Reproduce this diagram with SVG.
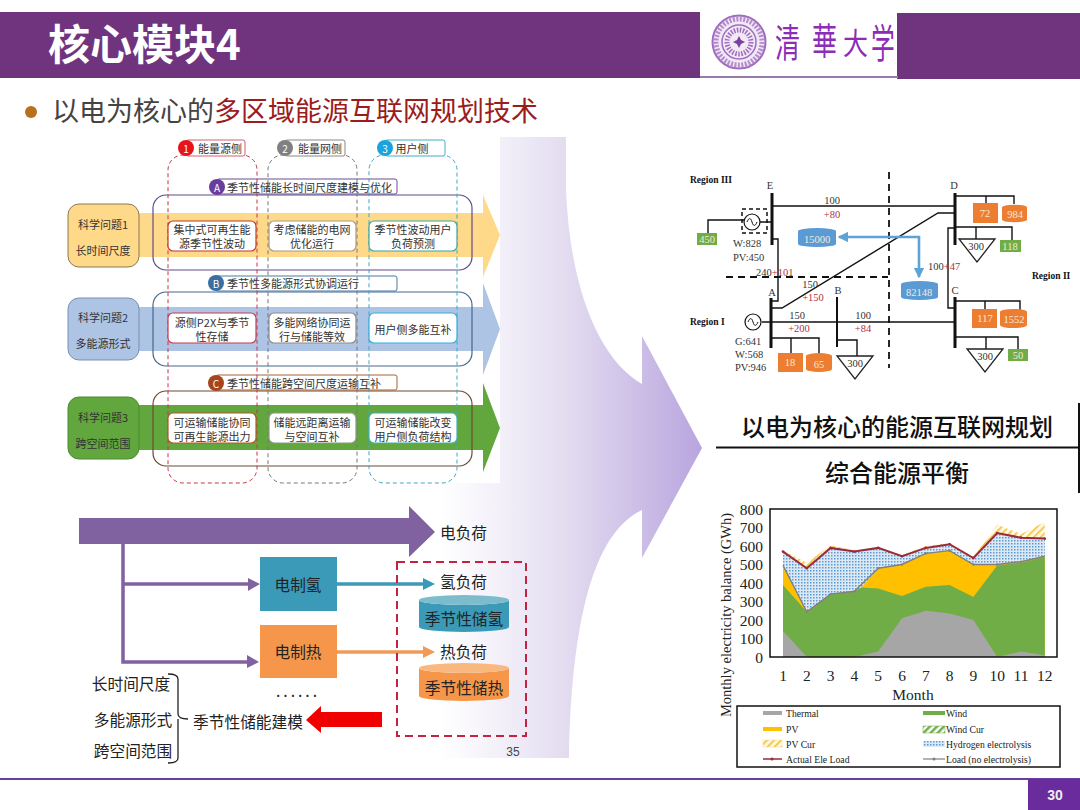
<svg xmlns="http://www.w3.org/2000/svg" width="1080" height="810" viewBox="0 0 1080 810">
<style>
text{font-family:"Noto Sans CJK SC","Noto Sans",sans-serif}
.c{text-anchor:middle;dominant-baseline:central}
.l{dominant-baseline:central}
.s{font-size:11px;fill:#333}
.m{font-size:15.7px;fill:#222;transform:translateY(-1px)}
.tag{fill:#fff;stroke-width:1}
.in{fill:#fff;stroke-width:1.2}
.col{fill:none;stroke-width:1;stroke-dasharray:4 3}
.big{fill:none;stroke-width:1.2}
.n{font-family:"Liberation Serif",serif;font-size:10.5px;fill:#333}
.r{font-family:"Liberation Serif",serif;font-size:10.5px;fill:#b03040}
.w{font-family:"Liberation Serif",serif;font-size:10.5px;fill:#f4ead8}
.b{font-family:"Liberation Serif",serif;font-size:9.5px;font-weight:bold;fill:#111}
.pl{fill:none;stroke:#111;stroke-width:1.4}
.bus{fill:none;stroke:#111;stroke-width:3}
.or{fill:#ed7d31}.gr{fill:#70ad47}.bl{fill:#5b9bd5}
.tri{fill:#fff;stroke:#222;stroke-width:1.3}
.t{font-family:"Liberation Serif",serif;font-size:15.5px;fill:#222}
.lg{font-family:"Liberation Serif",serif;font-size:9.7px;fill:#222}
.lc{font-size:25px;fill:#8b2db5;stroke:none}
</style>
<defs>
<linearGradient id="g" gradientUnits="userSpaceOnUse" x1="500" y1="0" x2="702" y2="0"><stop offset="0" stop-color="#f3f0f9"/><stop offset="0.33" stop-color="#e3dcf0"/><stop offset="1" stop-color="#b8a5de"/></linearGradient>
<linearGradient id="g2" gradientUnits="userSpaceOnUse" x1="440" y1="0" x2="500" y2="0"><stop offset="0" stop-color="#fff"/><stop offset="1" stop-color="#f3f0f9"/></linearGradient>
<pattern id="hy" width="3" height="3" patternUnits="userSpaceOnUse"><rect width="3" height="3" fill="#dce9f5"/><rect width="1.5" height="1.5" fill="#5b9bd5"/></pattern>
<pattern id="py" width="5" height="5" patternUnits="userSpaceOnUse" patternTransform="rotate(45)"><rect width="5" height="5" fill="#fff8e0"/><rect width="1.6" height="5" fill="#f2c13c"/></pattern>
<pattern id="wy" width="5" height="5" patternUnits="userSpaceOnUse" patternTransform="rotate(45)"><rect width="5" height="5" fill="#fff"/><rect width="2.5" height="5" fill="#70ad47"/></pattern>
<marker id="mb" viewBox="0 0 8 8" refX="7" refY="4" markerWidth="4" markerHeight="4" orient="auto-start-reverse"><path d="M0,0L8,4L0,8Z" fill="#5ea3d6"/></marker>
<marker id="dr" viewBox="0 0 6 6" refX="3" refY="3" markerWidth="1.6" markerHeight="1.6"><circle cx="3" cy="3" r="2.5" fill="#9c2a3a"/></marker>
<marker id="dg" viewBox="0 0 6 6" refX="3" refY="3" markerWidth="2" markerHeight="2"><circle cx="3" cy="3" r="2.5" fill="#808080"/></marker>
</defs>
<rect width="1080" height="810" fill="#fff"/>

<g id="header">
<rect x="0" y="12" width="700" height="66" fill="#70347f"/>
<rect x="897" y="13" width="183" height="66" fill="#70347f"/>
<rect x="700" y="76" width="198" height="2" fill="#9a7aa8"/>
<text x="48" y="60" font-size="42" font-weight="700" fill="#fff">核心模块4</text>
</g>
<g id="logo" fill="none" stroke="#a06cc0">
<circle cx="739" cy="42" r="26.5" stroke-width="2" fill="#f1e9f5"/>
<circle cx="739" cy="42" r="23" stroke-width="5" stroke-dasharray="2 1.5" stroke="#b48ccb"/>
<circle cx="739" cy="42" r="17" stroke-width="1.5"/>
<circle cx="739" cy="42" r="12" stroke-width="5" stroke-dasharray="1.5 1.5"/>
<path d="M739,36L741,40L745,42L741,44L739,48L737,44L733,42L737,40Z" fill="#7a3fa0" stroke="none"/>
<text class="lc" transform="translate(775,57) scale(1,1.55)">清</text>
<text class="lc" transform="translate(812,55) scale(1,1.5)">華</text>
<text class="lc" transform="translate(843,54) scale(1,1.2)">大</text>
<text class="lc" transform="translate(871,58) scale(.95,1.6)">学</text>
</g>
<g id="subtitle">
<circle cx="31" cy="112" r="6" fill="#b8701c"/>
<text x="52" y="121" font-size="27" fill="#444">以电为核心的<tspan fill="#9c1c1c">多区域能源互联网规划技术</tspan></text>
</g>

<g id="big-arrow">
<path d="M440,483H500V758H440Z" fill="url(#g2)"/>
<path d="M500,137H566V190C570,290 600,360 642,384V336L702,448L642,558V510C600,530 572,600 569,758H500Z" fill="url(#g)"/>
</g>

<g id="problem-bands">
<path d="M139,213H483V195L500,235L483,277V257H139Z" fill="#ffd98a"/>
<path d="M139,307H483V283L500,329L483,375V351H139Z" fill="#aec4e4"/>
<path d="M139,405H483V383L500,428L483,472V450H139Z" fill="#62a73e"/>
</g>
<g id="q1"><rect x="68" y="204" width="71" height="63" rx="11" fill="#ffd98a" stroke="#8a7a50"/><text class="c s" x="103" y="224">科学问题1</text><text class="c s" x="103" y="250">长时间尺度</text></g>
<g id="q2"><rect x="68" y="298" width="71" height="62" rx="11" fill="#aec4e4" stroke="#7a8fb0"/><text class="c s" x="103" y="317">科学问题2</text><text class="c s" x="103" y="343">多能源形式</text></g>
<g id="q3"><rect x="68" y="397" width="71" height="62" rx="11" fill="#62a73e" stroke="#4a8a30"/><text class="c s" x="103" y="417" fill="#123">科学问题3</text><text class="c s" x="103" y="443">跨空间范围</text></g>

<g id="group-a"><rect class="big" x="153" y="195" width="319" height="75" rx="13" stroke="#5f4b8b"/></g>
<g id="group-b"><rect class="big" x="153" y="292" width="319" height="74" rx="13" stroke="#45688a"/></g>
<g id="group-c"><rect class="big" x="153" y="391" width="319" height="75" rx="13" stroke="#6e4a30"/></g>

<g id="tag-a"><rect class="tag" x="217" y="179" width="180" height="15" rx="2" stroke="#6a4c93"/><circle cx="217" cy="187" r="8" fill="#6a3c9c"/><text class="c" x="217" y="187" font-size="10" fill="#fff">A</text><text class="l s" x="227" y="187">季节性储能长时间尺度建模与优化</text></g>
<g id="tag-b"><rect class="tag" x="216" y="276" width="181" height="15" rx="2" stroke="#4a7aa5"/><circle cx="216" cy="283" r="8" fill="#3a6ea5"/><text class="c" x="216" y="283" font-size="10" fill="#fff">B</text><text class="l s" x="227" y="283">季节性多能源形式协调运行</text></g>
<g id="tag-c"><rect class="tag" x="216" y="375" width="181" height="15" rx="2" stroke="#a5653b"/><circle cx="216" cy="383" r="8" fill="#a5451b"/><text class="c" x="216" y="383" font-size="10" fill="#fff">C</text><text class="l s" x="227" y="383">季节性储能跨空间尺度运输互补</text></g>

<g id="col-1"><rect class="col" x="168" y="155" width="89" height="328" rx="15" stroke="#c8344a"/><rect class="tag" x="186" y="140" width="59" height="16" rx="2" stroke="#d06070"/><circle cx="186" cy="148" r="8" fill="#e8141c"/><text class="c" x="186" y="148" font-size="10" fill="#fff">1</text><text class="c s" x="220" y="148">能量源侧</text></g>
<g id="col-2"><rect class="col" x="268" y="155" width="89" height="328" rx="15" stroke="#777"/><rect class="tag" x="285" y="140" width="60" height="16" rx="2" stroke="#888"/><circle cx="285" cy="148" r="8" fill="#808080"/><text class="c" x="285" y="148" font-size="10" fill="#fff">2</text><text class="c s" x="320" y="148">能量网侧</text></g>
<g id="col-3"><rect class="col" x="369" y="155" width="88" height="328" rx="15" stroke="#3fa7c8"/><rect class="tag" x="385" y="140" width="60" height="16" rx="2" stroke="#3fb0c8"/><circle cx="385" cy="148" r="8" fill="#1ba3dc"/><text class="c" x="385" y="148" font-size="10" fill="#fff">3</text><text class="c s" x="412" y="148">用户侧</text></g>

<g id="a1"><rect class="in" x="168" y="221" width="88" height="30" rx="5" stroke="#c0392b"/><text class="c s" x="212" y="229">集中式可再生能</text><text class="c s" x="212" y="243">源季节性波动</text></g>
<g id="a2"><rect class="in" x="269" y="221" width="87" height="30" rx="5" stroke="#a89a80"/><text class="c s" x="312" y="229">考虑储能的电网</text><text class="c s" x="312" y="243">优化运行</text></g>
<g id="a3"><rect class="in" x="369" y="221" width="88" height="30" rx="5" stroke="#3aa6a0"/><text class="c s" x="413" y="229">季节性波动用户</text><text class="c s" x="413" y="243">负荷预测</text></g>
<g id="b1"><rect class="in" x="168" y="313" width="88" height="30" rx="5" stroke="#c83a50"/><text class="c s" x="212" y="322">源侧P2X与季节</text><text class="c s" x="212" y="336">性存储</text></g>
<g id="b2"><rect class="in" x="269" y="313" width="87" height="30" rx="5" stroke="#8a8a8a"/><text class="c s" x="312" y="322">多能网络协同运</text><text class="c s" x="312" y="336">行与储能等效</text></g>
<g id="b3"><rect class="in" x="369" y="313" width="88" height="30" rx="5" stroke="#2fb0dc"/><text class="c s" x="413" y="329">用户侧多能互补</text></g>
<g id="c1"><rect class="in" x="168" y="413" width="88" height="30" rx="5" stroke="#b5562a"/><text class="c s" x="212" y="422">可运输储能协同</text><text class="c s" x="212" y="436">可再生能源出力</text></g>
<g id="c2"><rect class="in" x="269" y="413" width="87" height="30" rx="5" stroke="#8a9a80"/><text class="c s" x="312" y="422">储能远距离运输</text><text class="c s" x="312" y="436">与空间互补</text></g>
<g id="c3"><rect class="in" x="369" y="413" width="88" height="30" rx="5" stroke="#40b0b0"/><text class="c s" x="413" y="422">可运输储能改变</text><text class="c s" x="413" y="436">用户侧负荷结构</text></g>

<g id="lower-connectors">
<path d="M79,518H409V506L435,532L409,557V544H79Z" fill="#8062a0"/>
<path d="M123,544V662H248M123,584H249" fill="none" stroke="#8062a0" stroke-width="3.5"/>
<path d="M248,578L260,584L248,591ZM247,655L259,662L247,668Z" fill="#8062a0"/>
<path d="M337,584H424" stroke="#3b9ab8" stroke-width="3.5" fill="none"/>
<path d="M423,578L435,584L423,590Z" fill="#3b9ab8"/>
<path d="M337,652H424" stroke="#f09a55" stroke-width="3.5" fill="none"/>
<path d="M423,646L435,652L423,658Z" fill="#f09a55"/>
<path d="M382,712H321V706L306,720L321,733V727H382Z" fill="#f00000"/>
<path d="M168,674C174,674 178,675 178,679V714C178,717 180,719 188,719M178,719V758C178,762 174,763 168,763" fill="none" stroke="#222" stroke-width="1.3"/>
</g>
<g id="load-e"><text class="l m" x="440" y="533">电负荷</text></g>
<g id="p2h"><rect x="260" y="557" width="77" height="54" fill="#3b9ab8"/><text class="c m" x="298" y="585" fill="#123">电制氢</text></g>
<g id="p2t"><rect x="260" y="625" width="77" height="53" fill="#f5964a"/><text class="c m" x="298" y="652" fill="#322">电制热</text></g>
<g id="store-box"><rect x="397" y="562" width="129" height="174" fill="none" stroke="#c4223e" stroke-width="2" stroke-dasharray="8 5"/></g>
<g id="load-h"><text class="l m" x="440" y="582">氢负荷</text></g>
<g id="load-t"><text class="l m" x="440" y="652">热负荷</text></g>
<g id="store-h"><path d="M419,600A45,5 0 0 0 509,600V627A45,5 0 0 1 419,627Z" fill="#3b9ab8"/><path d="M419,600A45,5 0 0 1 509,600A45,5 0 0 1 419,600Z" fill="#7cbccd"/><text class="c m" x="464" y="619" fill="#122">季节性储氢</text></g>
<g id="store-t"><path d="M419,668A45,5 0 0 0 509,668V696A45,5 0 0 1 419,696Z" fill="#f5964a"/><path d="M419,668A45,5 0 0 1 509,668A45,5 0 0 1 419,668Z" fill="#f9b880"/><text class="c m" x="464" y="688" fill="#322">季节性储热</text></g>
<g id="dots"><text class="c m" x="298" y="691" letter-spacing="3">......</text></g>
<g id="scales"><text class="c m" x="131" y="684">长时间尺度</text><text class="c m" x="133" y="720">多能源形式</text><text class="c m" x="133" y="751">跨空间范围</text></g>
<g id="model"><text class="c m" x="248" y="722">季节性储能建模</text></g>
<text x="513" y="752" class="c" font-size="12" style="font-family:'Liberation Sans',sans-serif" fill="#444">35</text>

<g id="network-lines">
<path class="pl" d="M708,233V220H744M760,222H772M772,206H955M772,239H778V301H771M771,308H782L938,213H955M762,322H955M771,338H819V355M791,338V353M837,340H857V356M955,196H1014V204M986,196V204M955,227H1012V240M976,227V239M955,228H948V308H955M955,301H1020V310M985,301V310M955,337H1018V350M986,337V349"/>
<path class="bus" d="M772,193V245M955,193V245M771,298V348M955,297V348"/>
<path d="M837,297V347" fill="none" stroke="#111" stroke-width="2"/>
<path d="M726,277H888M889,172V368" fill="none" stroke="#111" stroke-width="1.8" stroke-dasharray="7 5"/>
<path d="M839,237H919V277" fill="none" stroke="#5ea3d6" stroke-width="2.6" marker-start="url(#mb)" marker-end="url(#mb)"/>
</g>
<g id="gen-e"><rect x="742" y="209" width="25" height="24" fill="none" stroke="#111" stroke-width="1.5" stroke-dasharray="4 3"/><circle cx="752" cy="222" r="8" fill="#fff" stroke="#111" stroke-width="1.2"/><path d="M747,222C749,217 751,218 752,222C753,226 755,227 757,222" fill="none" stroke="#111"/></g>
<g id="gen-a"><circle cx="753" cy="322" r="8" fill="#fff" stroke="#111" stroke-width="1.2"/><path d="M748,322C750,317 752,318 753,322C754,326 756,327 758,322" fill="none" stroke="#111"/></g>
<g id="net-labels">
<text class="l b" x="690" y="180">Region III</text><text class="l b" x="690" y="322">Region I</text><text class="l b" x="1032" y="276">Region II</text>
<text class="c n" x="770" y="185">E</text><text class="c n" x="954" y="185">D</text><text class="c n" x="772" y="292">A</text><text class="c n" x="838" y="290">B</text><text class="c n" x="955" y="290">C</text>
<text class="c n" x="832" y="200">100</text><text class="c r" x="832" y="214">+80</text>
<text class="l n" x="733" y="243">W:828</text><text class="l n" x="733" y="257">PV:450</text>
<text class="l n" x="756" y="272">240<tspan fill="#b03040">+101</tspan></text>
<text class="c n" x="810" y="284">150</text><text class="c r" x="813" y="297">+150</text>
<text class="c n" x="797" y="315">150</text><text class="c r" x="799" y="328">+200</text>
<text class="c n" x="863" y="315">100</text><text class="c r" x="863" y="328">+84</text>
<text class="l n" x="735" y="341">G:641</text><text class="l n" x="735" y="354">W:568</text><text class="l n" x="735" y="367">PV:946</text>
<text class="l n" x="928" y="266">100<tspan fill="#b03040">+47</tspan></text>
</g>
<g id="n450"><rect class="gr" x="697" y="233" width="20" height="12"/><text class="c w" x="707" y="239">450</text></g>
<g id="n18"><rect class="or" x="778" y="353" width="25" height="19"/><text class="c w" x="790" y="362">18</text></g>
<g id="n65"><path class="or" d="M806,356A13,3 0 0 1 832,356V369A13,3 0 0 1 806,369Z"/><text class="c w" x="819" y="364">65</text></g>
<g id="n300b"><path class="tri" d="M837,356H873L855,379Z"/><text class="c n" x="855" y="363">300</text></g>
<g id="n72"><rect class="or" x="973" y="203" width="25" height="20"/><text class="c w" x="985" y="213">72</text></g>
<g id="n984"><path class="or" d="M1002,207A13,3 0 0 1 1027,207V220A13,3 0 0 1 1002,220Z"/><text class="c w" x="1015" y="214">984</text></g>
<g id="n300d"><path class="tri" d="M959,239H995L977,262Z"/><text class="c n" x="976" y="246">300</text></g>
<g id="n118"><rect class="gr" x="1000" y="240" width="21" height="12"/><text class="c w" x="1010" y="246">118</text></g>
<g id="n117"><rect class="or" x="972" y="309" width="25" height="19"/><text class="c w" x="985" y="318">117</text></g>
<g id="n1552"><path class="or" d="M1000,312A13,3 0 0 1 1027,312V325A13,3 0 0 1 1000,325Z"/><text class="c w" x="1014" y="319">1552</text></g>
<g id="n300c"><path class="tri" d="M967,349H1003L985,372Z"/><text class="c n" x="985" y="356">300</text></g>
<g id="n50"><rect class="gr" x="1008" y="349" width="20" height="12"/><text class="c w" x="1018" y="355">50</text></g>
<g id="n15000"><path class="bl" d="M798,231A19,3 0 0 1 836,231V244A19,3 0 0 1 798,244Z"/><text class="c w" x="817" y="239">15000</text></g>
<g id="n82148"><path class="bl" d="M901,284A18.5,3 0 0 1 938,284V297A18.5,3 0 0 1 901,297Z"/><text class="c w" x="919" y="292">82148</text></g>

<g id="titles">
<path d="M716,447.500H1080M1079,403V493" stroke="#111" stroke-width="2" fill="none"/>
<text class="c" x="897" y="425" font-size="24" font-weight="500" fill="#111">以电为核心的能源互联网规划</text>
<text class="c" x="897" y="471" font-size="24" font-weight="500" fill="#111">综合能源平衡</text>
</g>

<g id="chart">
<path fill="url(#py)" d="M783,550.600L806.800,562.700L830.600,545.100L854.400,550.600L878.200,547.900L902,555.300L925.800,546L949.600,543.200L973.400,557.100L997.200,524.700L1021,534L1044.800,522V657H783Z"/>
<path fill="url(#hy)" d="M783,551.600L806.800,568.200L830.600,547.900L854.400,551.600L878.200,547.900L902,556.200L925.800,547.900L949.600,544.200L973.400,558L997.200,533L1021,537.700L1044.800,538.600V657H783Z"/>
<path fill="#ffc000" d="M783,565.400L806.800,611.700L830.600,594.100L854.400,591.300L861.500,587.600L878.200,568.200L902,564.500L925.800,553.400L949.600,550.600L973.400,564.500L997.200,564.500L1021,561.700L1044.800,556.200V657H783Z"/>
<path fill="#70ad47" d="M783,584.900L806.800,611.700L830.600,594.100L854.400,591.300L861.500,587.600L878.200,588.600L902,596L925.800,586.700L949.600,584.900L973.400,596.900L997.200,565.400L1021,562.700L1044.800,557.100V657H783Z"/>
<path fill="#a6a6a6" d="M783,631.100L806.800,657H854.400L878.200,651.500L902,618.200L925.800,610.800L949.600,613.500L973.400,620L997.200,657L1021,651.500L1044.800,655.200V657H783Z"/>
<polyline fill="none" stroke="#808080" stroke-width="1.4" marker-mid="url(#dg)" points="783,565.400 806.800,611.700 830.600,594.100 854.400,591.300 878.200,568.200 902,564.500 925.800,553.400 949.600,550.600 973.400,564.500 997.200,564.500 1021,561.700 1044.800,556.200"/>
<polyline fill="none" stroke="#9c2a3a" stroke-width="2" marker-start="url(#dr)" marker-mid="url(#dr)" marker-end="url(#dr)" points="783,551.600 806.800,568.200 830.600,547.900 854.400,551.600 878.200,547.900 902,556.200 925.800,547.900 949.600,544.200 973.400,558 997.200,533 1021,537.700 1044.800,538.600"/>
<rect x="770" y="509" width="287" height="148" fill="none" stroke="#111" stroke-width="1.5"/>
<g text-anchor="end">
<text class="t l" x="763" y="509">800</text><text class="t l" x="763" y="527.500">700</text><text class="t l" x="763" y="546">600</text><text class="t l" x="763" y="564.500">500</text><text class="t l" x="763" y="583">400</text><text class="t l" x="763" y="601.500">300</text><text class="t l" x="763" y="620">200</text><text class="t l" x="763" y="638.500">100</text><text class="t l" x="763" y="657">0</text>
</g>
<g text-anchor="middle">
<text class="t l" x="783" y="675">1</text><text class="t l" x="806.800" y="675">2</text><text class="t l" x="830.600" y="675">3</text><text class="t l" x="854.400" y="675">4</text><text class="t l" x="878.200" y="675">5</text><text class="t l" x="902" y="675">6</text><text class="t l" x="925.800" y="675">7</text><text class="t l" x="949.600" y="675">8</text><text class="t l" x="973.400" y="675">9</text><text class="t l" x="997.200" y="675">10</text><text class="t l" x="1021" y="675">11</text><text class="t l" x="1044.800" y="675">12</text>
<text class="t l" x="913" y="694">Month</text>
<text class="t l" style="font-size:14.5px" transform="translate(726,615) rotate(-90)">Monthly electricity balance (GWh)</text>
</g>
<rect x="737" y="706" width="323" height="61" fill="#fff" stroke="#111" stroke-width="1.5"/>
<rect x="763" y="711" width="19" height="4" fill="#a6a6a6"/><text class="lg l" x="786" y="713">Thermal</text>
<rect x="763" y="727" width="19" height="4" fill="#ffc000"/><text class="lg l" x="786" y="729">PV</text>
<rect x="763" y="740" width="19" height="7" fill="url(#py)" stroke="#ffd98a" stroke-width="0.5"/><text class="lg l" x="786" y="744">PV Cur</text>
<path d="M763,759H782" stroke="#9c2a3a" stroke-width="1.5"/><circle cx="772" cy="759" r="1.5" fill="#9c2a3a"/><text class="lg l" x="786" y="759">Actual Ele Load</text>
<rect x="923" y="711" width="22" height="4" fill="#70ad47"/><text class="lg l" x="946" y="713">Wind</text>
<rect x="923" y="726" width="22" height="7" fill="url(#wy)" stroke="#70ad47" stroke-width="0.5"/><text class="lg l" x="946" y="729">Wind Cur</text>
<rect x="923" y="741" width="22" height="6" fill="url(#hy)"/><text class="lg l" x="946" y="744">Hydrogen electrolysis</text>
<path d="M923,759H945" stroke="#808080" stroke-width="1.2"/><circle cx="934" cy="759" r="1.5" fill="#808080"/><text class="lg l" x="946" y="759">Load (no electrolysis)</text>
</g>

<g id="footer">
<rect x="0" y="778" width="1080" height="2" fill="#6b3fa0"/>
<rect x="1028" y="779" width="52" height="31" fill="#6a2c9c"/>
<text class="c" x="1055" y="795" font-size="14" font-weight="700" fill="#eee" style="font-family:'Liberation Sans',sans-serif">30</text>
</g>
</svg>
